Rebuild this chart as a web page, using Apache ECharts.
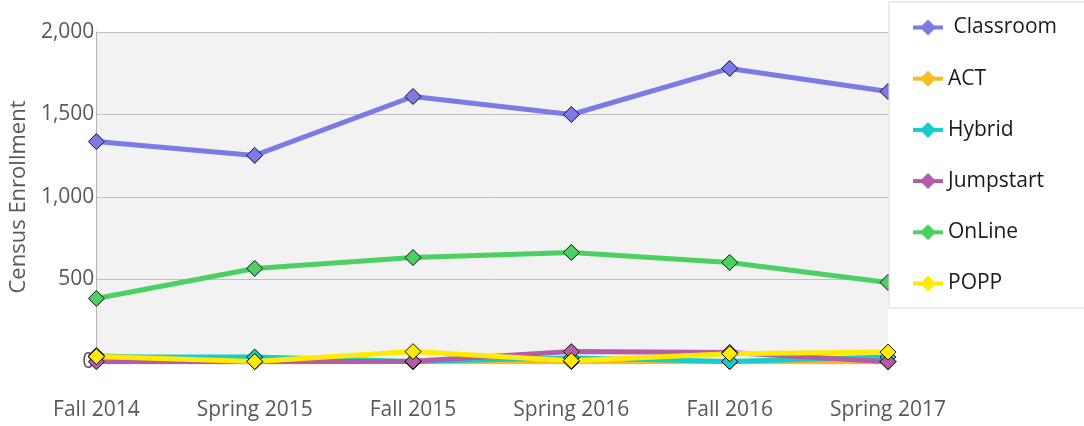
<!DOCTYPE html>
<html><head><meta charset="utf-8">
<script src="https://cdn.jsdelivr.net/npm/echarts@6/dist/echarts.min.js"></script>
<style>html,body{margin:0;padding:0;background:#fff}#c{width:1084px;height:426px}</style>
</head><body><div id="c"></div>
<script>
const categories = ['Fall 2014','Spring 2015','Fall 2015','Spring 2016','Fall 2016','Spring 2017'];
const yTicks = [0, 500, 1000, 1500, 2000];
const classroom = [1336, 1252, 1609, 1500, 1779, 1639];
const act = [40, 2, 2, 2, 2, 2];
const hybrid = [30, 30, 3, 25, 3, 30];
const jumpstart = [2, 2, 5, 63, 58, 2];
const online = [385, 567, 633, 664, 603, 482];
const popp = [33, 3, 63, 8, 50, 60];
const seriesNames = [' Classroom','ACT','Hybrid','Jumpstart','OnLine','POPP'];
const colors = ['#7b7be6','#f9bb22','#17cccc','#b45ca8','#4cd062','#ffea00'];
const seriesData = [classroom, act, hybrid, jumpstart, online, popp];

const chart = echarts.init(document.getElementById('c'));
const font = 'Open Sans, Noto Sans, sans-serif';
chart.setOption({
  animation: false,
  color: colors,
  grid: {left: 94, right: 196, top: 32, bottom: 64, show: true, backgroundColor: '#f2f2f2', borderWidth: 0},
  legend: {
    orient: 'vertical', left: 889, top: 2,
    padding: [15, 60, 14, 22],
    backgroundColor: '#fff', borderColor: '#d9d9d9', borderWidth: 1,
    itemWidth: 30, itemHeight: 20, itemGap: 30.2,
    itemStyle: {borderWidth: 0},
    lineStyle: {width: 4},
    textStyle: {fontSize: 21, color: '#1a1a1a', fontFamily: font, lineHeight: 20},
    data: seriesNames
  },
  xAxis: {
    type: 'category', data: categories, boundaryGap: false,
    axisLine: {show: false}, axisTick: {show: false},
    axisLabel: {fontSize: 21, color: '#595959', fontFamily: font, margin: 38}
  },
  yAxis: {
    type: 'value', min: 0, max: 2000, interval: 500,
    name: 'Census Enrollment', nameLocation: 'middle', nameGap: 62, nameRotate: 90,
    nameTextStyle: {fontSize: 22, color: '#595959', fontFamily: font},
    axisLine: {show: true, lineStyle: {color: '#b3b3b3'}},
    axisTick: {show: false},
    axisLabel: {fontSize: 21, color: '#595959', fontFamily: font, margin: 2,
      formatter: v => yTicks.includes(v) ? v.toLocaleString('en-US') : ''},
    splitLine: {lineStyle: {color: '#c0c0c0'}}
  },
  series: seriesData.map((d, i) => ({
    name: seriesNames[i], type: 'line', data: d,
    symbol: 'diamond', symbolSize: 16,
    lineStyle: {width: 5, color: colors[i]},
    itemStyle: {color: colors[i], borderColor: '#111', borderWidth: 1}
  }))
});
</script></body></html>
